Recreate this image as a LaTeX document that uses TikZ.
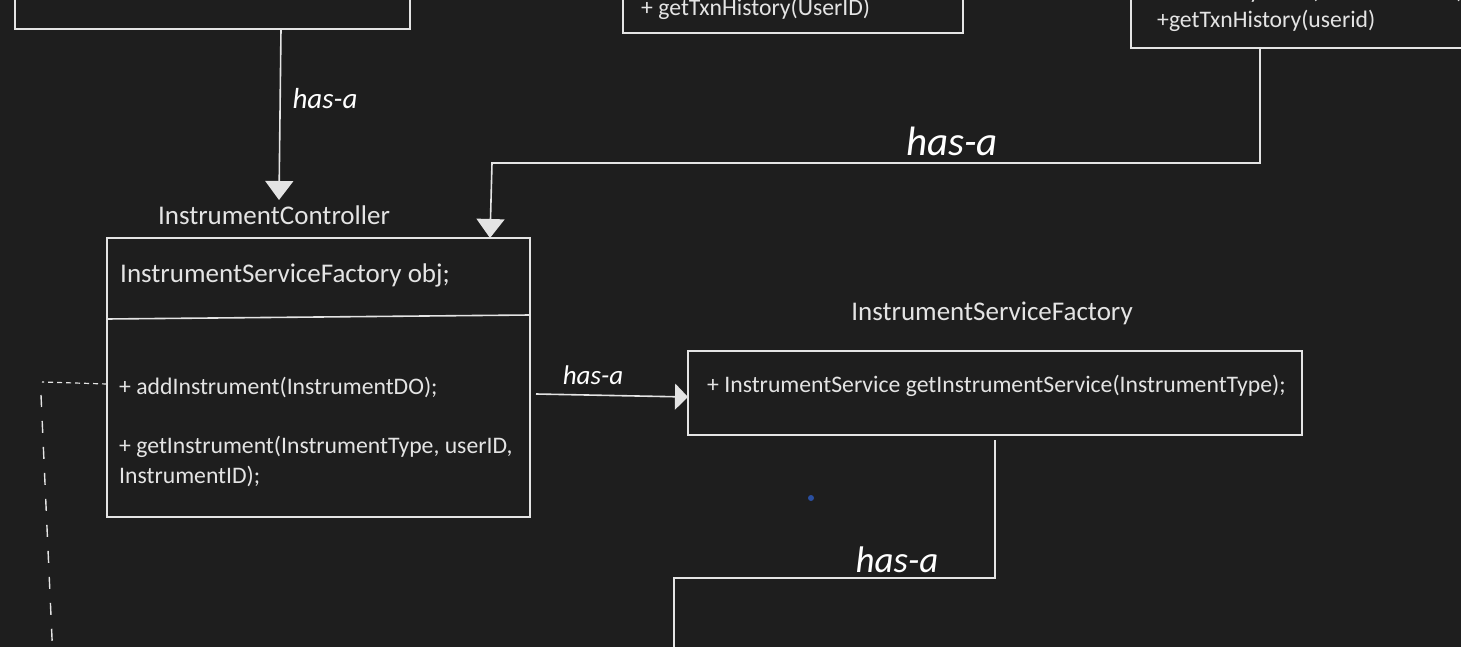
\documentclass[tikz,border=0pt]{standalone}
\usepackage{fontspec}
\setmainfont{Carlito}
\usetikzlibrary{arrows.meta,calc}
\definecolor{bg}{HTML}{1E1E1E}
\definecolor{ln}{HTML}{E4E4E4}
\definecolor{dotblue}{HTML}{2A4FA0}
\begin{document}
\begin{tikzpicture}[x=1pt,y=-1pt,
  box/.style={draw=ln, line width=1.6pt, rectangle, inner sep=0pt, outer sep=0pt},
  conn/.style={draw=ln, line width=1.6pt},
  hasa/.style={conn, -{Triangle[width=28pt,length=19pt,fill=ln]}},
  hasasmall/.style={conn, -{Triangle[width=26pt,length=13pt,fill=ln]}},
  title/.style={text=ln, font=\fontsize{27}{31}\selectfont, inner sep=0pt},
  attr/.style={text=ln, font=\fontsize{27}{31}\selectfont, inner sep=0pt, anchor=west},
  txt/.style={text=ln, font=\fontsize{23.7}{29}\selectfont, inner sep=0pt, anchor=west},
  hand/.style={text=white, font=\itshape, inner sep=0pt}
]
\useasboundingbox (0,0) rectangle (1461,647);
\fill[bg] (0,0) rectangle (1461,647);
\begin{scope}
\clip (0,0) rectangle (1461,647);

% top partial boxes
\node[box, minimum width=395pt, minimum height=129pt] (tl) at (212.5,-35.5) {};
\node[box, minimum width=340pt, minimum height=93pt] (tm) at (793,-13.5) {};
\node[box, minimum width=429pt, minimum height=128pt] (tr) at (1345.5,-16) {};
\node[txt] (tmtxt) at (641,9) {+ getTxnHistory(UserID)};
\node[txt] (trtxt1) at (1157,-8) {+ makePayment(transactionDO);};
\node[txt] (trtxt2) at (1157,21) {+getTxnHistory(userid)};

% InstrumentController
\node[title] (ictitle) at (274,215) {InstrumentController};
\node[box, minimum width=423pt, minimum height=279pt] (ic) at (318.5,377.5) {};
\draw[conn] (ic.west |- 0,319) -- (ic.east |- 0,315);
\node[attr] (icattr) at (120,275) {InstrumentServiceFactory obj;};
\node[txt] (icm1) at (119,387) {+ addInstrument(InstrumentDO);};
\node[txt] (icm2) at (119,447) {+ getInstrument(InstrumentType, userID,};
\node[txt] (icm3) at (119,476) {InstrumentID);};

% InstrumentServiceFactory
\node[title] (isftitle) at (992,313) {InstrumentServiceFactory};
\node[box, minimum width=614pt, minimum height=84pt] (isf) at (995,393) {};
\node[txt] (isfm) at (707,386) {+ InstrumentService getInstrumentService(InstrumentType);};

\coordinate (bottomend) at (674,660);

% connectors
\draw[hasa] ([xshift=68.5pt]tl.south) -- (279,200);
\node[hand, font=\fontsize{29}{31}\selectfont\itshape] (l1) at (325,99) {has-a};

\draw[hasa] ([xshift=-85.5pt]tr.south) -- (1260,163) -- (492,163) -- ([xshift=-40pt]ic.north east);
\node[hand, font=\fontsize{41}{43}\selectfont\itshape] (l2) at (952,141) {has-a};

\draw[hasasmall] (536,394) -- (isf.west |- 0,397);
\node[hand, font=\fontsize{27}{29}\selectfont\itshape] (l3) at (593,375) {has-a};

\draw[conn] (995,440) -- (995,578) -- (674,578) -- (bottomend);
\node[hand, font=\fontsize{37}{39}\selectfont\itshape] (l4) at (897,560) {has-a};

% dashed dependency
\draw[ln, line width=1.2pt, dash pattern=on 5pt off 4pt] (ic.west |- 0,384) -- (42,382);
\draw[ln, line width=1.4pt, dash pattern=on 12pt off 14pt] (41,395) -- (53,660);

\fill[dotblue] (811,498) circle (3pt);
\end{scope}
\end{tikzpicture}
\end{document}
